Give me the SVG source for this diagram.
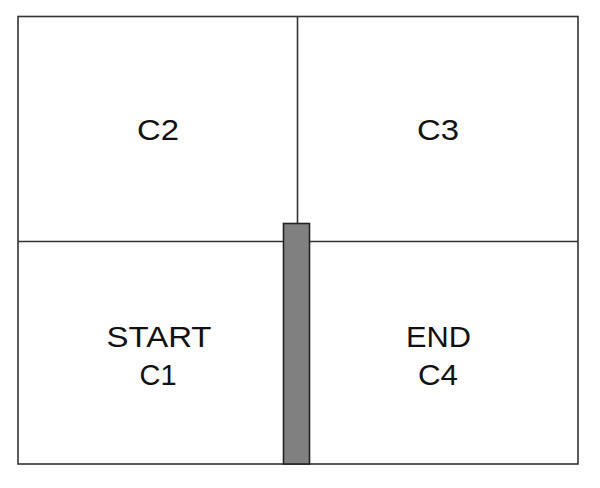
<svg xmlns="http://www.w3.org/2000/svg" width="600" height="488" viewBox="0 0 600 488">
<style>
.ln{stroke:#333;stroke-width:1.6;fill:none}
.t{font-family:"Liberation Sans",Arial,sans-serif;font-size:29px;fill:#111;text-anchor:middle}
</style>
<rect width="600" height="488" fill="#fff"/>
<g id="connectors">
<rect class="ln" x="18" y="16.5" width="560" height="447.5"/>
<line class="ln" x1="297.5" y1="16.5" x2="297.5" y2="223"/>
<line class="ln" x1="18" y1="241.5" x2="578" y2="241.5"/>
</g>
<g id="C2"><text class="t" x="158" y="140" textLength="42" lengthAdjust="spacingAndGlyphs">C2</text></g>
<g id="C3"><text class="t" x="438" y="140" textLength="42" lengthAdjust="spacingAndGlyphs">C3</text></g>
<g id="C1"><text class="t" x="159" y="347" textLength="105" lengthAdjust="spacingAndGlyphs">START</text><text class="t" x="158" y="385" textLength="37" lengthAdjust="spacingAndGlyphs">C1</text></g>
<g id="C4"><text class="t" x="438.5" y="347" textLength="65" lengthAdjust="spacingAndGlyphs">END</text><text class="t" x="438" y="385" textLength="40" lengthAdjust="spacingAndGlyphs">C4</text></g>
<g id="wall"><rect x="283.5" y="223.5" width="26" height="240.5" fill="#808080" stroke="#222" stroke-width="1.6"/></g>
</svg>
